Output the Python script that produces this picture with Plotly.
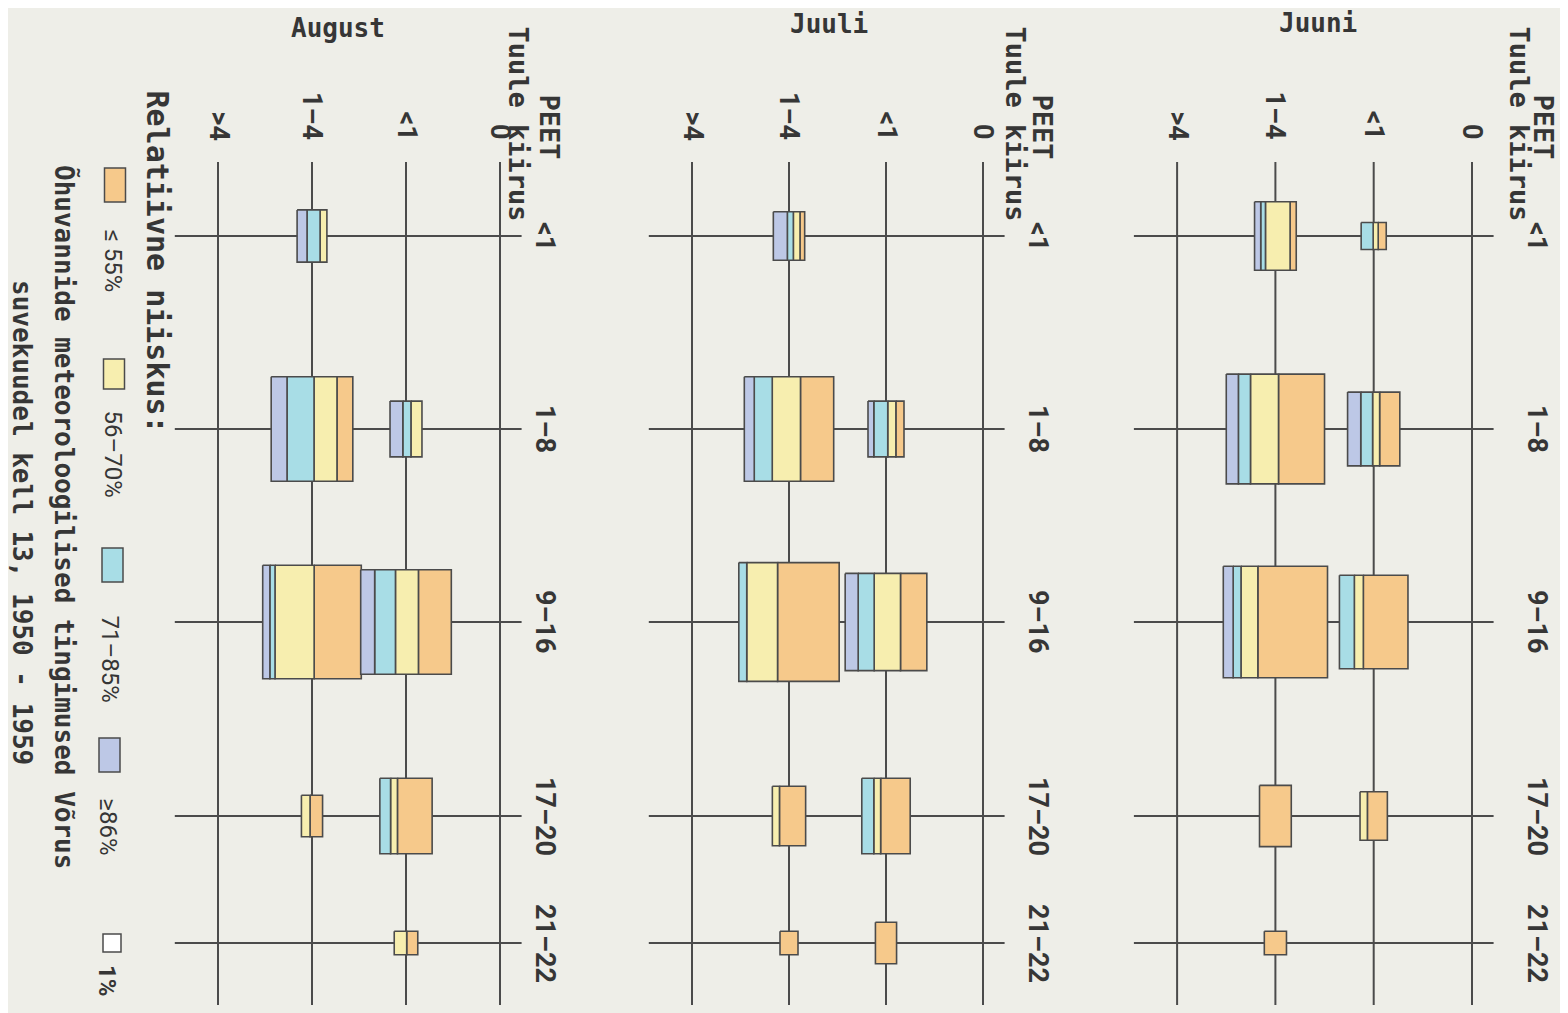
import plotly.graph_objects as go

MONTHS = ["August", "Juuli", "Juuni"]
WIND_LABELS = ["0", "<1", "1–4", ">4"]
PEET_LABELS = ["<1", "1–8", "9–16", "17–20", "21–22"]
HUMIDITY_LABELS = ["≤ 55%", "56–70%", "71–85%", "≥86%"]
SCALE_LABEL = "1%"

# one entry per box: PEET class, wind class, box height (in sides of the 1% square)
# and the share of days (%) for each humidity class
JUUNI_PEET = ["<1", "<1", "1–8", "1–8", "9–16", "9–16", "17–20", "17–20", "21–22"]
JUUNI_WIND = ["<1", "1–4", "<1", "1–4", "<1", "1–4", "<1", "1–4", "1–4"]
JUUNI_HEIGHT = [1.5, 3.8, 4.1, 6.1, 5.2, 6.2, 2.7, 3.4, 1.3]
JUUNI_LE55 = [0.67, 1.3, 4.6, 15.6, 12.9, 24.0, 3.0, 6.0, 1.6]
JUUNI_56_70 = [0.42, 5.2, 1.6, 9.5, 2.6, 5.8, 1.1, 0, 0]
JUUNI_71_85 = [1.0, 1.0, 2.7, 4.1, 4.3, 2.7, 0, 0, 0]
JUUNI_GE86 = [0, 1.3, 3.0, 4.1, 0, 3.4, 0, 0, 0]

JUULI_PEET = ["<1", "1–8", "1–8", "9–16", "9–16", "17–20", "17–20", "21–22", "21–22"]
JUULI_WIND = ["1–4", "<1", "1–4", "<1", "1–4", "<1", "1–4", "<1", "1–4"]
JUULI_HEIGHT = [2.7, 3.1, 5.8, 5.4, 6.6, 4.2, 3.3, 2.3, 1.3]
JUULI_LE55 = [0.7, 1.4, 10.7, 7.9, 22.6, 6.9, 4.8, 2.7, 1.3]
JUULI_56_70 = [1.0, 1.4, 9.1, 7.9, 11.3, 1.6, 1.3, 0, 0]
JUULI_71_85 = [0.9, 2.4, 5.8, 4.8, 2.9, 2.8, 0, 0, 0]
JUULI_GE86 = [2.1, 1.0, 3.2, 3.9, 0, 0, 0, 0, 0]

AUGUST_PEET = ["<1", "1–8", "1–8", "9–16", "9–16", "17–20", "17–20", "21–22"]
AUGUST_WIND = ["1–4", "<1", "1–4", "<1", "1–4", "<1", "1–4", "<1"]
AUGUST_HEIGHT = [2.9, 3.1, 5.8, 5.8, 6.3, 4.2, 2.3, 1.3]
AUGUST_LE55 = [0, 0, 5.1, 10.6, 16.5, 8.1, 1.6, 0.8]
AUGUST_56_70 = [1.1, 1.9, 7.4, 7.4, 13.7, 1.6, 1.1, 0.9]
AUGUST_71_85 = [2.1, 1.4, 8.7, 6.7, 1.8, 2.5, 0, 0]
AUGUST_GE86 = [1.6, 2.2, 5.1, 4.5, 2.5, 0, 0, 0]

DATA = {
    "August": (AUGUST_PEET, AUGUST_WIND, AUGUST_HEIGHT,
               [AUGUST_LE55, AUGUST_56_70, AUGUST_71_85, AUGUST_GE86]),
    "Juuli": (JUULI_PEET, JUULI_WIND, JUULI_HEIGHT,
              [JUULI_LE55, JUULI_56_70, JUULI_71_85, JUULI_GE86]),
    "Juuni": (JUUNI_PEET, JUUNI_WIND, JUUNI_HEIGHT,
              [JUUNI_LE55, JUUNI_56_70, JUUNI_71_85, JUUNI_GE86]),
}

# ---- look ----
BG = "#EEEEE8"
INK = "#4b4b4b"
TEXT = "#363636"
COLORS = ["#F6C98B", "#F7EEAF", "#A8DDE6", "#BDC8E6"]
MONO = "DejaVu Sans Mono"
SANS = "Roboto"

# the page puts the figure 8px in from the window corner
OFF = 8
PAGE_W, PAGE_H = 1568, 1013
FW, FH = PAGE_W - OFF, PAGE_H - OFF

UNIT_PX = 18  # side of the 1% square
ROW_PX = [236, 429, 622, 816, 943]
PANELS = {  # zero-wind line, column step, horizontal span (page pixels)
    "August": dict(zero=500, step=94, dom=(165, 590), label=545, peet=549, tuul=518, title=(338, 28)),
    "Juuli": dict(zero=983, step=97, dom=(600, 1090), label=1038, peet=1042, tuul=1015, title=(829, 24)),
    "Juuni": dict(zero=1472, step=98.3, dom=(1100, PAGE_W), label=1537, peet=1543, tuul=1519, title=(1318, 23)),
}
AXES = {"August": ("x", "xaxis"), "Juuli": ("x2", "xaxis2"), "Juuni": ("x3", "xaxis3")}

rows = [(p - ROW_PX[0]) / UNIT_PX for p in ROW_PX]
line_top = (162 - ROW_PX[0]) / UNIT_PX
line_bottom = (1005 - ROW_PX[0]) / UNIT_PX


def px_x(px):
    return (px - OFF) / FW


def px_y(py):
    return 1 - (py - OFF) / FH


fig = go.Figure()
layout_axes = {}

for month in MONTHS:
    geo = PANELS[month]
    xref, axname = AXES[month]
    cols = [i * geo["step"] / UNIT_PX for i in range(len(WIND_LABELS))]

    # grid
    gx, gy = [], []
    for c in cols:
        gx += [c, c, None]
        gy += [line_top, line_bottom, None]
    for r in rows:
        gx += [cols[-1] + 2.4, -1.2, None]
        gy += [r, r, None]
    fig.add_trace(go.Scatter(x=gx, y=gy, mode="lines", xaxis=xref, yaxis="y",
                             line=dict(color=INK, width=2), hoverinfo="skip", showlegend=False))

    peet, wind, height, shares = DATA[month]
    polys = {k: ([], []) for k in range(4)}
    for i in range(len(peet)):
        c = cols[WIND_LABELS.index(wind[i])]
        r = rows[PEET_LABELS.index(peet[i])]
        h = height[i]
        total = sum(s[i] for s in shares) / h
        cursor = c + total / 2
        y0, y1 = r - h / 2, r + h / 2
        for k in (3, 2, 1, 0):  # wettest on the left, driest on the right
            w = shares[k][i] / h
            if w <= 0:
                continue
            x0, x1 = cursor, cursor - w
            sx, sy = polys[k]
            sx += [x0, x1, x1, x0, x0, None]
            sy += [y0, y0, y1, y1, y0, None]
            cursor = x1
    for k in range(4):
        xs, ys = polys[k]
        if not xs:
            continue
        fig.add_trace(go.Scatter(x=xs, y=ys, mode="lines", fill="toself", fillcolor=COLORS[k],
                                 line=dict(color=INK, width=1.6), xaxis=xref, yaxis="y",
                                 name=HUMIDITY_LABELS[k], showlegend=False,
                                 hovertemplate=f"{month} {HUMIDITY_LABELS[k]}<extra></extra>"))

    d0, d1 = geo["dom"]
    layout_axes[axname] = dict(domain=[px_x(d0), px_x(d1)],
                               range=[(geo["zero"] - d0) / UNIT_PX, (geo["zero"] - d1) / UNIT_PX],
                               visible=False, anchor="y")

annotations = []


def note(text, x, y, size, family=MONO, angle=90, xanchor="center", yanchor="middle", bold=True, color=TEXT):
    t = f"<b>{text}</b>" if bold else text
    annotations.append(dict(text=t, x=px_x(x), y=px_y(y), xref="paper", yref="paper",
                            showarrow=False, textangle=angle, xanchor=xanchor, yanchor=yanchor,
                            font=dict(family=family, size=size, color=color)))


for month in MONTHS:
    geo = PANELS[month]
    for i, lab in enumerate(WIND_LABELS):
        note(lab, geo["zero"] - i * geo["step"], 142, 27, family=SANS, yanchor="bottom")
    for lab, rp in zip(PEET_LABELS, ROW_PX):
        note(lab, geo["label"], rp, 27, family=SANS)
    note("PEET", geo["peet"], 92, 27, yanchor="top")
    note("Tuule kiirus", geo["tuul"], 24, 27, yanchor="top")
    tx, ty = geo["title"]
    note(month, tx, ty, 26, angle=0)

# legend
note("Relatiivne niiskus:", 157, 88, 30, yanchor="top")
swatches = [(115, 168, 202), (114, 359, 389), (112.5, 548, 582), (109.5, 738, 772)]
label_pos = [(113, 227), (112, 408), (110, 613), (108, 797)]
shapes = []
for k, ((cx, ya, yb), (lx, ly)) in enumerate(zip(swatches, label_pos)):
    shapes.append(dict(type="rect", xref="paper", yref="paper", x0=px_x(cx - 10.5), x1=px_x(cx + 10.5),
                       y0=px_y(yb), y1=px_y(ya), fillcolor=COLORS[k], line=dict(color=INK, width=1.5)))
    note(HUMIDITY_LABELS[k], lx, ly, 24, family=SANS, yanchor="top", bold=False)
shapes.append(dict(type="rect", xref="paper", yref="paper", x0=px_x(103), x1=px_x(103 + UNIT_PX),
                   y0=px_y(934 + UNIT_PX), y1=px_y(934), fillcolor="white", line=dict(color=INK, width=1.5)))
note(SCALE_LABEL, 107, 963, 24, family=SANS, yanchor="top")

note("Õhuvannide meteoroloogilised tingimused Võrus", 65, 517, 26)
note("suvekuudel kell 13, 1950 - 1959", 22, 522, 26)

fig.update_layout(
    width=FW, height=FH,
    margin=dict(l=0, r=0, t=0, b=0),
    paper_bgcolor=BG, plot_bgcolor="rgba(0,0,0,0)",
    showlegend=False,
    yaxis=dict(domain=[0, 1], range=[(PAGE_H - ROW_PX[0]) / UNIT_PX, (OFF - ROW_PX[0]) / UNIT_PX],
               visible=False),
    annotations=annotations,
    shapes=shapes,
    **layout_axes,
)

fig.write_html("out.html")
